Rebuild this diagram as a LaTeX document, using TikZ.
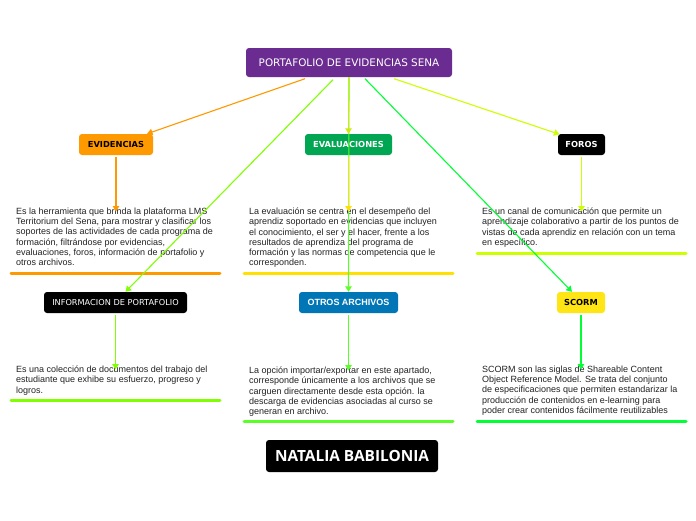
\documentclass[tikz,border=0pt]{standalone}
\usepackage{fontspec}
\setmainfont{Liberation Sans}
\newfontfamily\dvs{DejaVu Sans}
\newfontfamily\opensans{Open Sans}
\usetikzlibrary{arrows.meta}
\definecolor{cpurple}{RGB}{107,44,145}
\definecolor{corange}{RGB}{255,153,0}
\definecolor{cgreen}{RGB}{0,166,81}
\definecolor{cblue}{RGB}{0,118,182}
\definecolor{cyellow}{RGB}{255,229,20}
\definecolor{lyellow}{RGB}{255,224,0}
\definecolor{lyg}{RGB}{204,255,0}
\definecolor{llime}{RGB}{128,255,0}
\definecolor{lgreen}{RGB}{90,255,40}
\definecolor{lgreen2}{RGB}{0,255,51}
\definecolor{ctext}{RGB}{34,34,34}
\tikzset{
  box/.style={rounded corners=3pt, inner sep=0pt, minimum height=21pt, align=center},
  lbl/.style={font=\dvs\bfseries\fontsize{8.3}{10}\selectfont},
  txt/.style={anchor=north west, inner sep=0pt, align=left, font=\fontsize{9}{10.1}\selectfont, text=ctext},
  conn/.style={line width=1.1pt, -{Triangle[length=5.5pt,width=6.5pt]}},
  uline/.style={line width=3pt, line cap=round},
}
\begin{document}
\begin{tikzpicture}[x=1pt,y=-1pt]
\useasboundingbox (0,0) rectangle (696,520);
\fill[white] (0,0) rectangle (696,520);

% boxes
\node[box, fill=cpurple, minimum width=206pt, minimum height=29pt, text=white, font=\dvs\fontsize{10.4}{12}\selectfont] (root) at (349,62.5) {PORTAFOLIO DE EVIDENCIAS SENA};
\node[box, lbl, fill=corange, minimum width=74pt, text=black] (evid) at (116,144.5) {EVIDENCIAS};
\node[box, lbl, fill=cgreen, minimum width=87pt, text=white] (eval) at (348.5,144.5) {EVALUACIONES};
\node[box, lbl, fill=black, minimum width=47pt, text=white] (foros) at (581.5,144.5) {FOROS};
\node[box, fill=black, minimum width=143pt, text=white, font=\dvs\fontsize{8.2}{10}\selectfont] (info) at (115.5,302.5) {INFORMACION DE PORTAFOLIO};
\node[box, fill=cblue, minimum width=99pt, text=white, font=\bfseries\fontsize{9}{10}\selectfont] (otros) at (348.5,302.5) {OTROS ARCHIVOS};
\node[box, lbl, fill=cyellow, minimum width=48pt, text=black] (scorm) at (581,302.5) {SCORM};
\node[box, fill=black, minimum width=172pt, minimum height=32pt, text=white, font=\opensans\bfseries\fontsize{15.4}{17}\selectfont] (nat) at (352,456) {NATALIA BABILONIA};

% texts
\node[txt] (tevid) at (16,208) {Es la herramienta que brinda la plataforma LMS\\Territorium del Sena, para mostrar y clasificar los\\soportes de las actividades de cada programa de\\formación, filtrándose por evidencias,\\evaluaciones, foros, información de portafolio y\\otros archivos.};
\node[txt] (teval) at (249,208) {La evaluación se centra en el desempeño del\\aprendiz soportado en evidencias que incluyen\\el conocimiento, el ser y el hacer, frente a los\\resultados de aprendiza del programa de\\formación y las normas de competencia que le\\corresponden.};
\node[txt] (tforos) at (482,208) {Es un canal de comunicación que permite un\\aprendizaje colaborativo a partir de los puntos de\\vistas de cada aprendiz en relación con un tema\\en específico.};
\node[txt] (tinfo) at (16,366) {Es una colección de documentos del trabajo del\\estudiante que exhibe su esfuerzo, progreso y\\logros.};
\node[txt] (totros) at (249,367) {La opción importar/exportar en este apartado,\\corresponde únicamente a los archivos que se\\carguen directamente desde esta opción. la\\descarga de evidencias asociadas al curso se\\generan en archivo.};
\node[txt] (tscorm) at (482,366) {SCORM son las siglas de Shareable Content\\Object Reference Model. Se trata del conjunto\\de especificaciones que permiten estandarizar la\\producción de contenidos en e-learning para\\poder crear contenidos fácilmente reutilizables};

% underlines
\draw[uline, corange] (11,273) -- (220,273);
\draw[uline, lyellow] (244,273) -- (453,273);
\draw[uline, lyg] (477,253) -- (686,253);
\draw[uline, llime] (11,400) -- (220,400);
\draw[uline, lgreen] (244,421) -- (453,421);
\draw[uline, lgreen2] (477,421) -- (686,421);

% connectors from root
\draw[conn, corange] ([xshift=-44pt,yshift=-1.5pt]root.south) -- ([xshift=31pt]evid.north);
\draw[conn, lyg] ([xshift=45pt,yshift=-1.5pt]root.south) -- ([xshift=-22pt,yshift=-0.5pt]foros.north);
\draw[conn, llime] ([xshift=-16pt,yshift=-2.5pt]root.south) -- ([xshift=10pt]info.north);
\draw[conn, lgreen2] ([xshift=16pt,yshift=-1.5pt]root.south) -- ([xshift=-9pt]scorm.north);
\draw[conn, lgreen] (root.south) -- (otros.north);
\draw[conn, lyellow!70!lgreen] (root.south) -- (eval.north);

% connectors to texts
\draw[conn, corange] ([yshift=-2pt]evid.south) -- ([yshift=-3.5pt]evid.south |- tevid.north);
\draw[conn, lyellow] ([yshift=-2pt]eval.south) -- ([yshift=-3.5pt]eval.south |- teval.north);
\draw[conn, lyg] ([yshift=-2pt]foros.south) -- ([yshift=-3.5pt]foros.south |- tforos.north);
\draw[conn, llime] ([yshift=-2pt]info.south) -- ([yshift=-3.5pt]info.south |- tinfo.north);
\draw[conn, lgreen] ([yshift=-2pt]otros.south) -- ([yshift=-3.5pt]otros.south |- totros.north);
\draw[conn, lgreen2] ([yshift=-2pt]scorm.south) -- ([yshift=-3.5pt]scorm.south |- tscorm.north);
\end{tikzpicture}
\end{document}
